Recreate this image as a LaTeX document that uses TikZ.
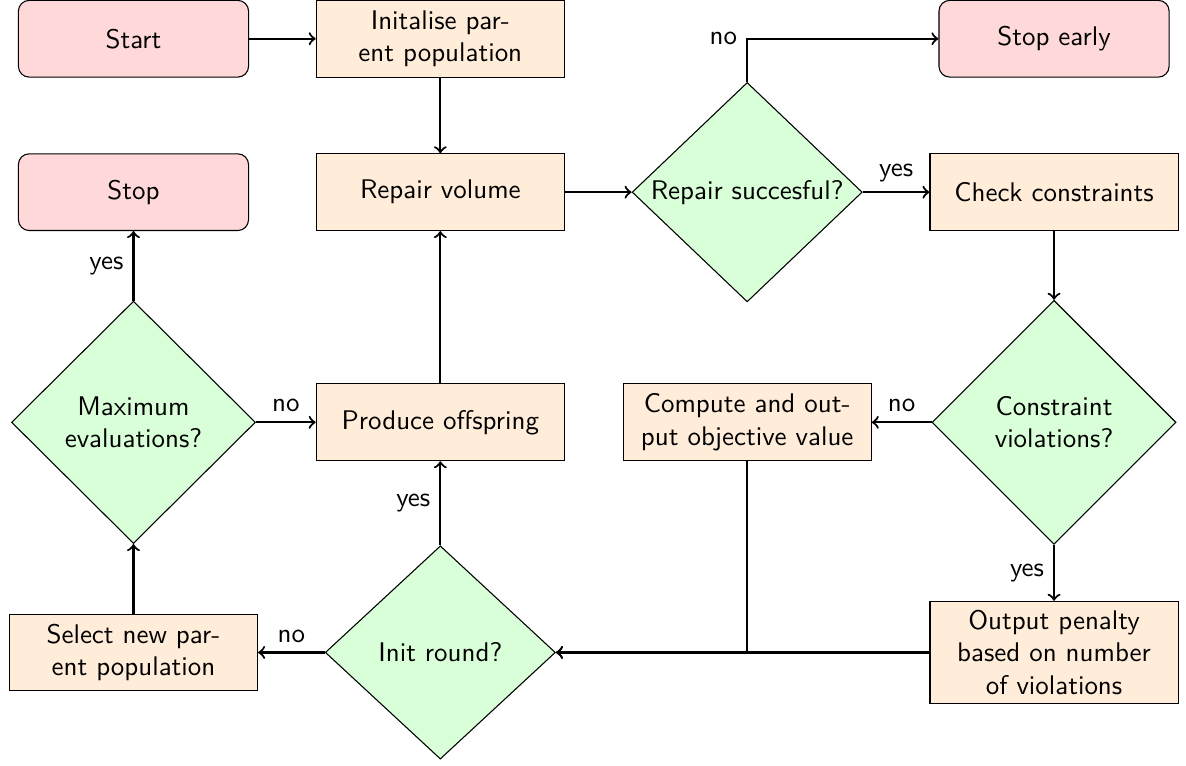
\documentclass[tikz,border=0pt]{standalone}
\usetikzlibrary{shapes.geometric}
\begin{document}
\begin{tikzpicture}[font=\sffamily,
  term/.style={draw=black, rectangle, rounded corners, minimum width=3cm, minimum height=1cm, fill=red!15},
  proc/.style={draw=black, rectangle, text width=3cm, minimum height=1cm, align=center, fill=orange!15},
  decide/.style={draw=black, diamond, inner sep=0pt, align=center, fill=green!15},
  arr/.style={->, thick}]
\useasboundingbox (-1.74,0.505) rectangle (13.72,-9.48);
% row 1
\node[term] (start) at (0,0) {Start};
\node[proc] (init) at (4,0) {Initalise par-\\ent population};
\node[term] (stopearly) at (12,0) {Stop early};
% row 2
\node[term] (stop) at (0,-2) {Stop};
\node[proc] (repair) at (4,-2) {Repair volume};
\node[decide, minimum width=3cm, minimum height=2.86cm] (rs) at (8,-2) {Repair succesful?};
\node[proc] (check) at (12,-2) {Check constraints};
% row 3
\node[decide, minimum width=3.18cm, minimum height=3.16cm] (maxev) at (0,-5) {Maximum\\evaluations?};
\node[proc] (produce) at (4,-5) {Produce offspring};
\node[proc] (compute) at (8,-5) {Compute and out-\\put objective value};
\node[decide, minimum width=3.18cm, minimum height=3.18cm] (cv) at (12,-5) {Constraint\\violations?};
% row 4
\node[proc] (select) at (0,-8) {Select new par-\\ent population};
\node[decide, minimum width=3cm, minimum height=2.78cm] (initround) at (4,-8) {Init round?};
\node[proc] (penalty) at (12,-8) {Output penalty\\based on number\\of violations};
% connectors
\draw[arr] (start) -- (init);
\draw[arr] (init) -- (repair);
\draw[arr] (repair) -- (rs);
\draw[arr] (rs) |- node[left, pos=0.5] {no} (stopearly);
\draw[arr] (rs) -- node[above] {yes} (check);
\draw[arr] (check) -- (cv);
\draw[arr] (cv) -- node[above] {no} (compute);
\draw[arr] (cv) -- node[left] {yes} (penalty);
\draw[arr] (penalty) -- (initround);
\draw[arr] (compute) |- (initround);
\draw[arr] (initround) -- node[above] {no} (select);
\draw[arr] (initround) -- node[left] {yes} (produce);
\draw[arr] (select) -- (maxev);
\draw[arr] (maxev) -- node[above] {no} (produce);
\draw[arr] (maxev) -- node[left] {yes} (stop);
\draw[arr] (produce) -- (repair);
\end{tikzpicture}
\end{document}
